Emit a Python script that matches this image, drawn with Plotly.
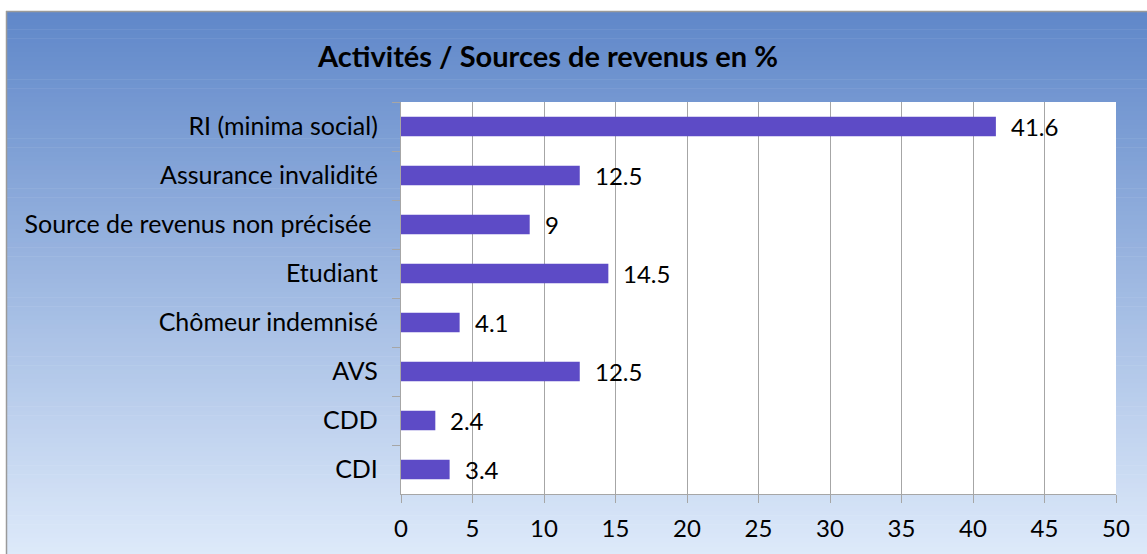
import plotly.graph_objects as go

categories = ["RI (minima social)", "Assurance invalidité", "Source de revenus non précisée ",
              "Etudiant", "Chômeur indemnisé", "AVS", "CDD", "CDI"]
values = [41.6, 12.5, 9, 14.5, 4.1, 12.5, 2.4, 3.4]
x_ticks = list(range(0, 55, 5))
title_text = "Activités / Sources de revenus en %"

W, H = 1147, 554
L, R, T, B = 401, 1116, 102, 494
pw, ph = R - L, B - T

def px(x):
    return (x - L) / pw

def py(y):
    return (B - y) / ph

FONT = "Lato"

fig = go.Figure()
fig.add_trace(go.Bar(
    y=categories, x=values, orientation="h",
    marker=dict(color="#5d4bc6", line=dict(width=0)),
    width=0.4, hoverinfo="skip",
))

# value labels
for c, v in zip(categories, values):
    fig.add_annotation(x=v, y=c, text=f"{v:g}", showarrow=False, xanchor="left",
                       xshift=13, yshift=0, font=dict(family=FONT, size=24, color="#000"))

# gradient background
shapes = []
y0, y1 = 11, 556
n = 120
top = (0x5f, 0x87, 0xc9)
bot = (0xde, 0xea, 0xfa)
for i in range(n):
    a = y0 + (y1 - y0) * i / n
    b = y0 + (y1 - y0) * (i + 1) / n + 0.6
    t = (i + 0.5) / n
    col = tuple(round(top[k] + (bot[k] - top[k]) * t) for k in range(3))
    shapes.append(dict(type="rect", xref="paper", yref="paper", x0=px(6), x1=px(1150),
                       y0=py(b), y1=py(a), line=dict(width=0),
                       fillcolor="rgb(%d,%d,%d)" % col, layer="below"))
# border
shapes.append(dict(type="line", xref="paper", yref="paper", x0=px(6.5), x1=px(6.5),
                   y0=py(11), y1=py(556), line=dict(color="#9a9a9a", width=1.5), layer="below"))
shapes.append(dict(type="line", xref="paper", yref="paper", x0=px(6), x1=px(1150),
                   y0=py(11.5), y1=py(11.5), line=dict(color="#9a9a9a", width=1.5), layer="below"))
# white plot area
shapes.append(dict(type="rect", xref="paper", yref="paper", x0=0, x1=1, y0=0, y1=1,
                   line=dict(width=0), fillcolor="white", layer="below"))

fig.update_layout(
    width=W, height=H,
    margin=dict(l=L, r=W - R, t=T, b=H - B, pad=0),
    paper_bgcolor="white", plot_bgcolor="rgba(0,0,0,0)",
    shapes=shapes,
    showlegend=False,
    bargap=0.6,
    title=dict(text=title_text, x=548 / W, xanchor="center", y=1 - 57 / H, yanchor="middle",
               font=dict(family=FONT, size=29, color="#000", weight="bold")),
    font=dict(family=FONT, size=24, color="#000"),
    xaxis=dict(range=[0, 50], tickvals=x_ticks, ticktext=[str(v) for v in x_ticks],
               showgrid=True, gridcolor="#a6a6a6", gridwidth=1.3,
               showline=True, linecolor="#a6a6a6", linewidth=1.3,
               ticks="outside", ticklen=8, tickcolor="#a6a6a6", tickwidth=1.3,
               ticklabelstandoff=5,
               tickfont=dict(family=FONT, size=24, color="#000"), zeroline=False,
               fixedrange=True),
    yaxis=dict(categoryorder="array", categoryarray=categories, autorange="reversed",
               showline=True, linecolor="#a6a6a6", linewidth=1.3,
               ticks="outside", ticklen=8, tickcolor="#a6a6a6", tickwidth=1.3,
               tickson="boundaries", ticklabelstandoff=17,
               tickfont=dict(family=FONT, size=25, color="#000"), showgrid=False,
               fixedrange=True),
)

fig.write_html("out.html", config=dict(displayModeBar=False),
               post_script="document.body.style.margin='0px';")
